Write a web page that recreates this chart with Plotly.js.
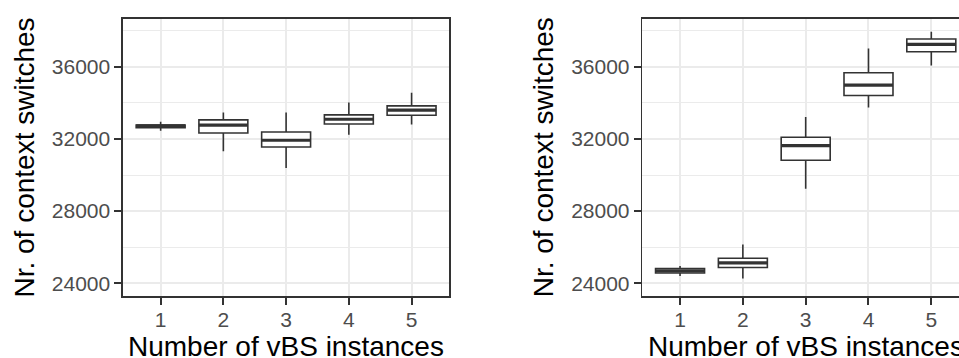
<!DOCTYPE html>
<html>
<head>
<meta charset="utf-8">
<script src="https://cdn.plot.ly/plotly-3.0.1.min.js"></script>
<style>
html,body{margin:0;padding:0;overflow:hidden;background:#fff;}
#chart{width:975px;height:358px;}
</style>
</head>
<body>
<div id="chart"></div>
<script>
// Categories: number of vBS instances
const instances = [1, 2, 3, 4, 5];

// Left panel box statistics
const leftLower  = [32461, 31317, 30389, 32240, 32796];
const leftQ1     = [32628, 32333, 31556, 32833, 33316];
const leftMedian = [32722, 32762, 31928, 33094, 33594];
const leftQ3     = [32778, 33056, 32389, 33333, 33833];
const leftUpper  = [32961, 33462, 33462, 34017, 34556];

// Right panel box statistics
const rightLower  = [24406, 24261, 29239, 33739, 36073];
const rightQ1     = [24572, 24872, 30817, 34406, 36834];
const rightMedian = [24685, 25128, 31628, 34984, 37240];
const rightQ3     = [24817, 25389, 32095, 35667, 37539];
const rightUpper  = [24961, 26150, 33223, 37017, 37946];

const yTicks = [24000, 28000, 32000, 36000];
const yTickLabels = ['24000', '28000', '32000', '36000'];
const xTickLabels = ['1', '2', '3', '4', '5'];
const yTitle = 'Nr. of context switches';
const xTitle = 'Number of vBS instances';

const FONT = 'Liberation Sans, Arial, sans-serif';
const DARK = '#333333';

function boxTrace(xa, ya, lo, q1, med, q3, hi) {
  return {
    type: 'box', x: instances, xaxis: xa, yaxis: ya,
    lowerfence: lo, q1: q1, median: med, q3: q3, upperfence: hi,
    width: 0.78, whiskerwidth: 0,
    fillcolor: '#ffffff', line: {color: DARK, width: 1.6},
    boxpoints: false, showlegend: false, hoverinfo: 'skip'
  };
}
function medianTrace(xa, ya, med) {
  return {
    type: 'box', x: instances, xaxis: xa, yaxis: ya,
    lowerfence: med, q1: med, median: med, q3: med, upperfence: med,
    width: 0.78, whiskerwidth: 0,
    fillcolor: DARK, line: {color: DARK, width: 3.2},
    boxpoints: false, showlegend: false, hoverinfo: 'skip'
  };
}

const data = [
  boxTrace('x', 'y', leftLower, leftQ1, leftMedian, leftQ3, leftUpper),
  medianTrace('x', 'y', leftMedian),
  boxTrace('x2', 'y2', rightLower, rightQ1, rightMedian, rightQ3, rightUpper),
  medianTrace('x2', 'y2', rightMedian)
];

function xAxis(domain, anchor, range) {
  return {
    domain: domain, anchor: anchor, range: range,
    tickmode: 'array', tickvals: instances, ticktext: xTickLabels,
    ticks: 'outside', ticklen: 7, tickwidth: 2, tickcolor: DARK,
    ticklabelstandoff: -3,
    showline: true, mirror: true, linecolor: DARK, linewidth: 1.6,
    showgrid: true, gridcolor: '#EBEBEB', gridwidth: 2,
    zeroline: false,
    tickfont: {family: FONT, size: 21, color: '#4D4D4D'}
  };
}
function yAxis(anchor) {
  return {
    anchor: anchor, domain: [0, 1], range: [23295, 38650],
    tickmode: 'array', tickvals: yTicks, ticktext: yTickLabels,
    ticks: 'outside', ticklen: 7, tickwidth: 2, tickcolor: DARK,
    showline: true, mirror: true, linecolor: DARK, linewidth: 1.6,
    showgrid: true, gridcolor: '#EBEBEB', gridwidth: 2,
    minor: {tickmode: 'linear', tick0: 22000, dtick: 2000, showgrid: true, gridcolor: '#EBEBEB', gridwidth: 1, ticks: ''},
    zeroline: false,
    tickfont: {family: FONT, size: 21, color: '#4D4D4D'}
  };
}

const titleFont = {family: FONT, size: 28, color: '#000000'};
const annotations = [
  {text: yTitle, xref: 'paper', yref: 'paper', x: -0.117, y: 0.5, textangle: -90,
   xanchor: 'center', yanchor: 'middle', showarrow: false, font: titleFont},
  {text: yTitle, xref: 'paper', yref: 'paper', x: 0.4974, y: 0.5, textangle: -90,
   xanchor: 'center', yanchor: 'middle', showarrow: false, font: titleFont},
  {text: xTitle, xref: 'x', yref: 'paper', x: 3, y: -0.184,
   xanchor: 'center', yanchor: 'middle', showarrow: false, font: titleFont},
  {text: xTitle, xref: 'x2', yref: 'paper', x: 3, y: -0.184,
   xanchor: 'center', yanchor: 'middle', showarrow: false, font: titleFont}
];

const layout = {
  width: 975, height: 358,
  margin: {l: 123, r: 5.6, t: 19, b: 62},
  paper_bgcolor: '#ffffff', plot_bgcolor: '#ffffff',
  font: {family: FONT},
  boxmode: 'overlay',
  xaxis: xAxis([0, 0.3856], 'y', [0.4, 5.6]),
  yaxis: yAxis('x'),
  xaxis2: xAxis([0.6139, 1], 'y2', [0.4, 5.6]),
  yaxis2: yAxis('x2'),
  annotations: annotations
};

Plotly.newPlot('chart', data, layout, {staticPlot: true, displayModeBar: false});
</script>
</body>
</html>
